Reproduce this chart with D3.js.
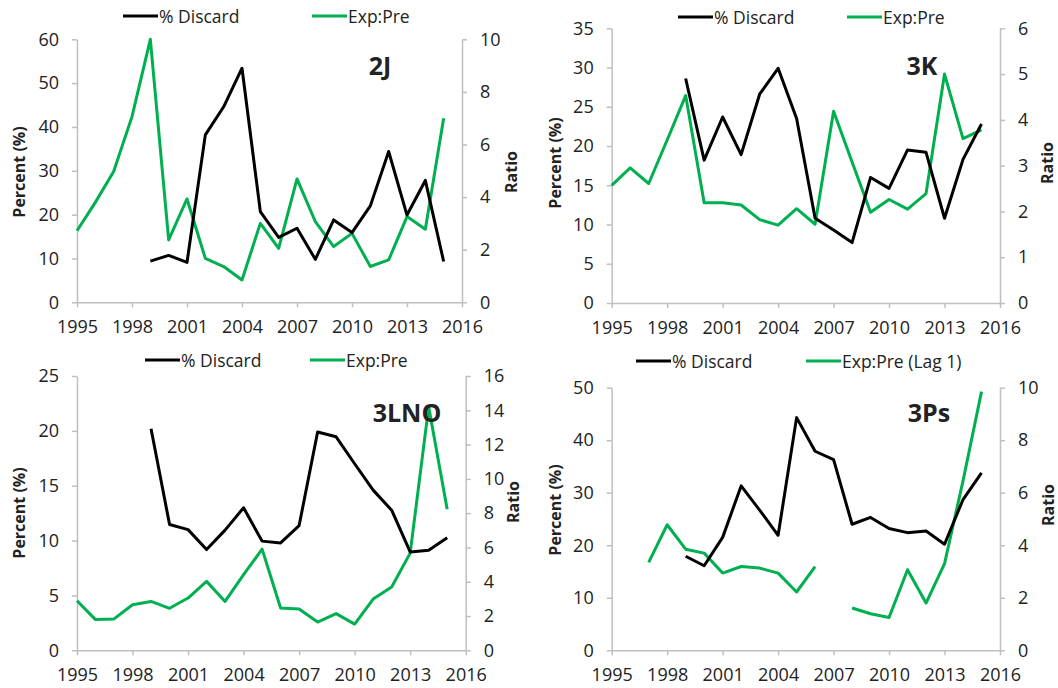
<!DOCTYPE html>
<html><head><meta charset="utf-8">
<script src="https://cdn.jsdelivr.net/npm/d3@7/dist/d3.min.js"></script>
<style>body{margin:0;background:#fff}svg{display:block}text{font-family:"Open Sans",sans-serif;fill:#222}</style>
</head><body><svg id="c" width="1058" height="688"></svg>
<script>
const years = d3.range(1995, 2016);
const xTicks = [1995, 1998, 2001, 2004, 2007, 2010, 2013, 2016];

const discard2J = [null,null,null,null,9.4,10.7,9.1,38.2,44.6,53.4,20.7,14.8,16.9,9.8,18.8,15.9,22.0,34.4,19.9,27.8,9.3];
const ratio2J   = [2.72,3.8,4.97,7.06,10.0,2.37,3.93,1.67,1.36,0.85,3.0,2.05,4.69,3.07,2.12,2.62,1.36,1.61,3.26,2.78,7.0];

const discard3K = [null,null,null,null,28.6,18.2,23.7,18.9,26.6,29.9,23.5,10.8,9.3,7.7,16.0,14.6,19.5,19.2,10.8,18.3,22.8];
const ratio3K   = [2.57,2.95,2.61,3.56,4.53,2.19,2.19,2.14,1.82,1.70,2.06,1.72,4.19,3.08,1.98,2.26,2.05,2.39,5.0,3.59,3.78];

const discard3LNO = [null,null,null,null,20.2,11.47,11.0,9.18,10.95,12.99,9.95,9.79,11.37,19.9,19.46,17.0,14.6,12.77,8.97,9.12,10.25];
const ratio3LNO   = [2.89,1.79,1.83,2.66,2.85,2.45,3.05,4.02,2.85,4.41,5.9,2.47,2.41,1.65,2.14,1.53,2.99,3.69,5.67,14.2,8.23];

const discard3Ps = [null,null,null,null,17.9,16.1,21.5,31.3,26.7,21.9,44.3,37.9,36.3,24.0,25.3,23.2,22.4,22.7,20.2,28.7,33.8];
const ratio3Ps   = [null,null,3.35,4.78,3.85,3.70,2.94,3.19,3.13,2.94,2.22,3.19,null,1.61,1.39,1.25,3.07,1.80,3.30,6.45,9.85];

const leftTicks2J = [0,10,20,30,40,50,60], rightTicks2J = [0,2,4,6,8,10];
const leftTicks3K = [0,5,10,15,20,25,30,35], rightTicks3K = [0,1,2,3,4,5,6];
const leftTicks3LNO = [0,5,10,15,20,25], rightTicks3LNO = [0,2,4,6,8,10,12,14,16];
const leftTicks3Ps = [0,10,20,30,40,50], rightTicks3Ps = [0,2,4,6,8,10];

const panels = [
  {name:"2J", discard:discard2J, ratio:ratio2J, lt:leftTicks2J, rt:rightTicks2J, ratioLabel:"Exp:Pre",
   x0:77, x1:462, yT:39.3, yB:302.3, ylx:19, yly:172, rlx:511, rly:172, legY:16, leg1:123, leg2:312, labX:380, labY:65},
  {name:"3K", discard:discard3K, ratio:ratio3K, lt:leftTicks3K, rt:rightTicks3K, ratioLabel:"Exp:Pre",
   x0:611.7, x1:1000, yT:28.3, yB:303, ylx:555, yly:163, rlx:1047, rly:163, legY:17, leg1:678, leg2:847, labX:922, labY:65},
  {name:"3LNO", discard:discard3LNO, ratio:ratio3LNO, lt:leftTicks3LNO, rt:rightTicks3LNO, ratioLabel:"Exp:Pre",
   x0:77, x1:465.7, yT:376, yB:650.3, ylx:19, yly:513, rlx:513, rly:502, legY:360, leg1:145, leg2:310, labX:407, labY:412},
  {name:"3Ps", discard:discard3Ps, ratio:ratio3Ps, lt:leftTicks3Ps, rt:rightTicks3Ps, ratioLabel:"Exp:Pre (Lag 1)",
   x0:611.7, x1:1000, yT:387.7, yB:650.3, ylx:555, yly:510, rlx:1048, rly:505, legY:361, leg1:636, leg2:806, labX:929, labY:412}
];

const svg = d3.select("#c");
const GREEN = "#00b050", AX = "#bfbfbf";

panels.forEach(p => {
  const g = svg.append("g");
  const x = d3.scaleLinear().domain([1995, 2016]).range([p.x0, p.x1]);
  const yl = d3.scaleLinear().domain([0, d3.max(p.lt)]).range([p.yB, p.yT]);
  const yr = d3.scaleLinear().domain([0, d3.max(p.rt)]).range([p.yB, p.yT]);

  const styleAxis = sel => {
    sel.select(".domain").attr("stroke", AX).attr("stroke-width", 1.5);
    sel.selectAll(".tick line").attr("stroke", AX).attr("stroke-width", 1.5);
    sel.selectAll(".tick text").style("font-size", "18px").attr("fill", "#222");
  };
  const fmt = d3.format("d");

  g.append("g").attr("transform", `translate(0,${p.yB})`)
    .call(d3.axisBottom(x).tickValues(xTicks).tickFormat(fmt).tickSize(5).tickSizeOuter(0).tickPadding(13))
    .call(styleAxis);
  g.append("g").attr("transform", `translate(${p.x0},0)`)
    .call(d3.axisLeft(yl).tickValues(p.lt).tickFormat(fmt).tickSize(5).tickSizeOuter(0).tickPadding(13))
    .call(styleAxis);
  g.append("g").attr("transform", `translate(${p.x1},0)`)
    .call(d3.axisRight(yr).tickValues(p.rt).tickFormat(fmt).tickSize(5).tickSizeOuter(0).tickPadding(13))
    .call(styleAxis);

  const lineL = d3.line().defined(d => d != null).x((d, i) => x(years[i])).y(d => yl(d));
  const lineR = d3.line().defined(d => d != null).x((d, i) => x(years[i])).y(d => yr(d));

  g.append("path").datum(p.ratio).attr("d", lineR).attr("fill", "none")
    .attr("stroke", GREEN).attr("stroke-width", 3).attr("stroke-linejoin", "round");
  g.append("path").datum(p.discard).attr("d", lineL).attr("fill", "none")
    .attr("stroke", "#000").attr("stroke-width", 3).attr("stroke-linejoin", "round");

  g.append("text").attr("transform", `translate(${p.ylx},${p.yly}) rotate(-90)`)
    .attr("text-anchor", "middle").attr("dominant-baseline", "central")
    .style("font-size", "16px").style("font-weight", "bold").text("Percent (%)");
  g.append("text").attr("transform", `translate(${p.rlx},${p.rly}) rotate(-90)`)
    .attr("text-anchor", "middle").attr("dominant-baseline", "central")
    .style("font-size", "16px").style("font-weight", "bold").text("Ratio");

  // legend
  [[p.leg1, "#000", "% Discard"], [p.leg2, GREEN, p.ratioLabel]].forEach(([lx, col, txt]) => {
    g.append("line").attr("x1", lx).attr("x2", lx + 35).attr("y1", p.legY).attr("y2", p.legY)
      .attr("stroke", col).attr("stroke-width", 3);
    g.append("text").attr("x", lx + 36).attr("y", p.legY).attr("dominant-baseline", "central")
      .style("font-size", "17.5px").text(txt);
  });

  g.append("text").attr("x", p.labX).attr("y", p.labY).attr("text-anchor", "middle")
    .attr("dominant-baseline", "central").style("font-size", "25px").style("font-weight", "bold")
    .attr("fill", "#111").text(p.name);
});
</script></body></html>
